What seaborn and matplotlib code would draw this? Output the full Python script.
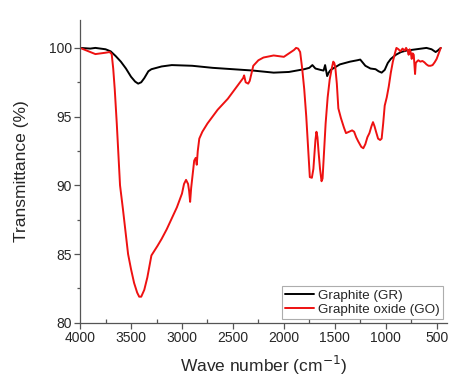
import matplotlib
matplotlib.use("Agg")
import matplotlib.pyplot as plt
import seaborn as sns
import pandas as pd
from matplotlib.ticker import MultipleLocator

sns.set_style("ticks")
plt.rcParams['font.family'] = ['Liberation Sans', 'DejaVu Sans']

# Graphite (GR)
gr_x = [4000, 3900, 3850, 3750, 3700, 3650, 3600, 3550, 3500, 3460, 3430, 3400, 3370, 3330, 3300,
        3200, 3100, 2900, 2700, 2500, 2300, 2100, 1950, 1800, 1750, 1720, 1690, 1640, 1610, 1595,
        1575, 1560, 1540, 1450, 1350, 1280, 1250, 1200, 1150, 1100, 1070, 1040, 1010, 980, 950,
        900, 850, 800, 700, 600, 550, 530, 510, 490, 460]
gr_y = [100.0, 99.95, 100.0, 99.9, 99.75, 99.4, 99.0, 98.5, 97.9, 97.55, 97.4, 97.5, 97.8, 98.3, 98.45,
        98.65, 98.75, 98.7, 98.55, 98.45, 98.35, 98.2, 98.25, 98.45, 98.55, 98.75, 98.5, 98.4, 98.35, 98.75,
        97.95, 98.2, 98.4, 98.8, 99.0, 99.1, 99.15, 98.7, 98.5, 98.45, 98.3, 98.2, 98.4, 98.9, 99.2,
        99.5, 99.7, 99.8, 99.9, 100.0, 99.9, 99.8, 99.7, 99.8, 100.0]

# Graphite oxide (GO)
go_x = [4000, 3950, 3900, 3850, 3800, 3750, 3710, 3690, 3675, 3660, 3640, 3608, 3580, 3555, 3529,
        3500, 3470, 3440, 3420, 3400, 3370, 3340, 3300, 3240, 3200, 3150, 3100, 3050, 3000, 2980,
        2960, 2940, 2930, 2920, 2910, 2895, 2880, 2865, 2855, 2845, 2830, 2800, 2750, 2700, 2650,
        2600, 2550, 2500, 2450, 2400, 2390, 2375, 2350, 2335, 2300, 2250, 2200, 2100, 2000, 1950,
        1900, 1880, 1860, 1840, 1820, 1800, 1780, 1760, 1745, 1725, 1710, 1700, 1690, 1680, 1670,
        1660, 1645, 1630, 1620, 1605, 1590, 1570, 1550, 1530, 1515, 1505, 1495, 1480, 1465, 1440,
        1410, 1390, 1360, 1330, 1310, 1290, 1270, 1255, 1240, 1220, 1200, 1180, 1160, 1140, 1125,
        1110, 1095, 1075, 1055, 1040, 1025, 1010, 990, 970, 950, 930, 910, 895, 875, 855,
        835, 815, 800, 785, 775, 765, 755, 745, 735, 725, 712, 705, 695, 680, 660,
        640, 620, 600, 580, 560, 540, 520, 500, 480, 460]
go_y = [100.0, 99.85, 99.7, 99.55, 99.6, 99.65, 99.7, 99.55, 98.5, 97.0, 94.5, 90.0, 88.3, 86.7, 85.0,
        83.9, 82.9, 82.2, 81.9, 81.9, 82.4, 83.3, 84.9, 85.6, 86.1, 86.8, 87.6, 88.4, 89.4, 90.1,
        90.4, 90.1, 89.6, 88.8, 89.8, 90.8, 91.8, 92.0, 91.5, 92.5, 93.4, 93.9, 94.5, 95.0, 95.5,
        95.9, 96.3, 96.8, 97.3, 97.8, 98.0, 97.5, 97.4, 97.6, 98.7, 99.1, 99.3, 99.45, 99.35, 99.6,
        99.85, 100.0, 99.95, 99.7, 98.5, 97.0, 95.0, 92.5, 90.6, 90.55, 91.2, 92.2, 93.3, 93.9, 93.5,
        92.5, 91.2, 90.3, 90.5, 92.5, 94.5, 96.4, 97.7, 98.5, 99.0, 98.9, 98.6, 97.4, 95.6, 94.9,
        94.2, 93.8, 93.9, 94.0, 93.9, 93.5, 93.2, 93.0, 92.8, 92.7, 93.0, 93.5, 93.8, 94.3, 94.6,
        94.3, 93.9, 93.4, 93.3, 93.4, 94.5, 95.8, 96.4, 97.2, 98.2, 99.0, 99.6, 100.0, 99.9, 99.75,
        99.95, 99.8, 100.0, 99.8, 99.5, 99.9, 99.7, 99.2, 99.6, 99.5, 98.1, 98.9, 99.0, 99.1, 99.0,
        99.05, 98.95, 98.8, 98.7, 98.7, 98.75, 98.95, 99.2, 99.6, 100.0]

df = pd.concat([
    pd.DataFrame({"wn": gr_x, "T": gr_y, "s": "Graphite (GR)"}),
    pd.DataFrame({"wn": go_x, "T": go_y, "s": "Graphite oxide (GO)"}),
])

fig = plt.figure(figsize=(4.5, 3.78), dpi=100)
ax = fig.add_axes([0.178, 0.146, 0.815, 0.80])
sns.lineplot(data=df, x="wn", y="T", hue="s", sort=False, estimator=None,
             palette={"Graphite (GR)": "#000000", "Graphite oxide (GO)": "#ee1111"},
             linewidth=1.4, ax=ax)

ax.set_xlim(4000, 400)
ax.set_ylim(80, 102)
ax.xaxis.set_major_locator(MultipleLocator(500))
ax.xaxis.set_minor_locator(MultipleLocator(250))
ax.set_yticks([80, 85, 90, 95, 100])
ax.yaxis.set_minor_locator(MultipleLocator(2.5))
ax.tick_params(axis='both', which='major', direction='out', length=4, width=0.9,
               labelsize=10, color='#555555', pad=2)
ax.tick_params(axis='x', which='minor', direction='in', length=3, width=0.9, color='#555555')
ax.tick_params(axis='y', which='minor', direction='out', length=2.5, width=0.9, color='#555555')
for s in ['top', 'right']:
    ax.spines[s].set_visible(False)
for s in ['left', 'bottom']:
    ax.spines[s].set_color('#555555')
    ax.spines[s].set_linewidth(0.9)

ax.set_xlabel("Wave number (cm$^{-1}$)", fontsize=12.5, labelpad=6)
ax.set_ylabel("Transmittance (%)", fontsize=12.5, labelpad=14)

leg = ax.legend(loc='lower right', fontsize=9.7, frameon=True, fancybox=False,
                handlelength=2.2, handletextpad=0.3, borderpad=0.2, labelspacing=0.15,
                borderaxespad=0.3)
leg.get_frame().set_edgecolor('#999999')
leg.get_frame().set_linewidth(0.8)

fig.savefig("out.png", dpi=100)
